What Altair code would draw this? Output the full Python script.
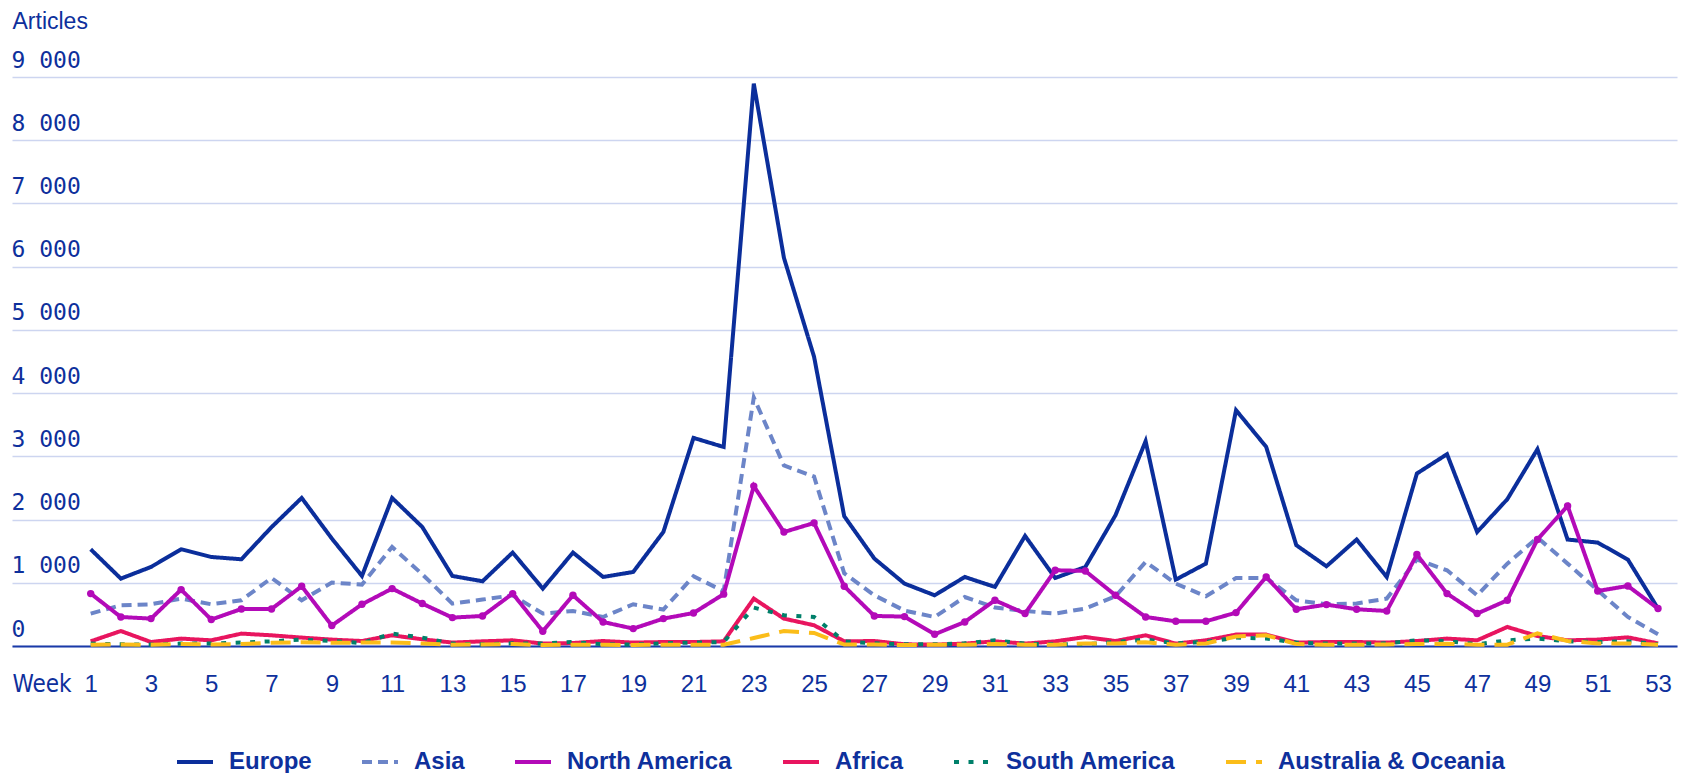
import altair as alt
import pandas as pd

weeks = list(range(1, 54))
europe = [1530, 1066, 1250, 1530, 1408, 1372, 1880, 2342, 1700, 1108,
          2342, 1883, 1108, 1024, 1478, 908, 1478, 1092, 1171, 1804,
          3292, 3148, 8895, 6140, 4575, 2053, 1383, 987, 802, 1092,
          934, 1741, 1076, 1250, 2068, 3240, 1050, 1303, 3730, 3150,
          1594, 1261, 1684, 1092, 2728, 3034, 1804, 2322, 3113, 1684,
          1636, 1367, 592]
asia = [513, 644, 660, 750, 660, 723, 1076, 723, 1003, 971,
        1567, 1135, 671, 734, 802, 513, 554, 459, 660, 576,
        1103, 866, 3931, 2855, 2679, 1150, 802, 560, 459, 775,
        608, 554, 513, 592, 786, 1329, 987, 786, 1076, 1076,
        723, 660, 671, 750, 1367, 1198, 802, 1303, 1715, 1303,
        881, 459, 185]
north_america = [829, 459, 433, 892, 418, 586, 586, 945, 323, 660,
                 908, 671, 449, 475, 829, 233, 802, 380, 275, 433,
                 522, 820, 2529, 1803, 1946, 945, 475, 465, 185, 380,
                 723, 513, 1198, 1187, 802, 459, 391, 391, 528, 1092,
                 581, 655, 581, 554, 1446, 829, 513, 723, 1684, 2216,
                 870, 950, 592]
africa = [74, 237, 63, 117, 90, 196, 169, 133, 101, 79,
          169, 106, 54, 74, 90, 38, 47, 79, 54, 63,
          63, 74, 750, 433, 328, 74, 79, 27, 22, 38,
          74, 38, 74, 142, 79, 169, 38, 90, 180, 180,
          54, 63, 63, 54, 79, 117, 90, 301, 158, 90,
          101, 137, 42]
south_america = [38, 27, 22, 38, 38, 54, 74, 101, 79, 47,
                 196, 133, 38, 27, 42, 38, 63, 27, 22, 42,
                 54, 63, 608, 486, 459, 74, 42, 27, 27, 42,
                 90, 38, 27, 27, 63, 101, 42, 63, 133, 117,
                 54, 38, 38, 42, 90, 79, 27, 90, 117, 74,
                 63, 74, 27]
australia = [20, 25, 20, 30, 25, 30, 50, 60, 50, 55,
             55, 40, 20, 25, 30, 15, 20, 20, 15, 20,
             20, 20, 127, 237, 206, 22, 25, 15, 20, 20,
             30, 20, 20, 40, 40, 60, 20, 40, 150, 170,
             30, 20, 20, 25, 30, 35, 20, 20, 200, 80,
             40, 40, 20]

series_names = ["Europe", "Asia", "North America", "Africa",
                "South America", "Australia & Oceania"]
series_values = [europe, asia, north_america, africa, south_america, australia]
colors = ["#0b2e9b", "#6c85c8", "#b30ab8", "#e8155f", "#00806a", "#fbbd19"]
dashes = [[1, 0], [10, 6], [1, 0], [1, 0], [5, 9.5], [20, 10]]
widths = [4, 4, 3.5, 4, 5, 4]
y_ticks = list(range(0, 10000, 1000))
x_ticks = list(range(1, 54, 2))

TEXT = "#0e309c"

rows = []
for name, vals in zip(series_names, series_values):
    for w, v in zip(weeks, vals):
        rows.append({"week": w, "series": name, "value": v})
df = pd.DataFrame(rows)

legend = alt.Legend(
    orient="none", legendX=163, legendY=665, direction="horizontal",
    columns=6, symbolType="stroke", symbolSize=1296, symbolStrokeWidth=4,
    labelFont="Liberation Sans", labelFontWeight="bold", labelFontSize=24,
    labelColor=TEXT, labelOffset=14, columnPadding=42, title=None,
    labelLimit=400, padding=0, rowPadding=0,
)

x_enc = alt.X(
    "week:Q",
    scale=alt.Scale(domain=[-1.611, 53.63], nice=False, zero=False),
    axis=alt.Axis(
        values=x_ticks, title="Week", grid=False, ticks=False, tickSize=0,
        labelPadding=45, labelBaseline="alphabetic", labelFontSize=24,
        labelFont="Liberation Sans", labelColor=TEXT, labelFlush=False,
        domainColor="#1a3aa8", domainWidth=2,
        titleAngle=0, titleX=0, titleY=45, titleAlign="left",
        titleBaseline="alphabetic", titleFontSize=24, titleFontWeight="normal",
        titleFont="Liberation Sans Narrow, DejaVu Sans Condensed, Liberation Sans",
        titleColor=TEXT,
    ),
)
y_enc = alt.Y(
    "value:Q",
    scale=alt.Scale(domain=[0, 9000], nice=False),
    axis=alt.Axis(
        values=y_ticks, title="Articles", grid=True, gridColor="#cdd5f0",
        gridWidth=1.5, domain=False, ticks=False, tickSize=0, labelPadding=1,
        labelAlign="left", labelBaseline="alphabetic", labelOffset=-10,
        labelFont="DejaVu Sans Mono", labelFontSize=23, labelColor=TEXT,
        labelExpr="replace(format(datum.value, ',d'), ',', ' ')",
        titleAngle=0, titleX=0, titleY=-49, titleAlign="left",
        titleBaseline="alphabetic", titleFontSize=23, titleFontWeight="normal",
        titleFont="Liberation Sans", titleColor=TEXT,
    ),
)

lines = alt.Chart(df).mark_line(strokeCap="butt", strokeJoin="miter").encode(
    x=x_enc,
    y=y_enc,
    color=alt.Color("series:N", scale=alt.Scale(domain=series_names, range=colors),
                    legend=legend, title=None),
    strokeDash=alt.StrokeDash("series:N",
                              scale=alt.Scale(domain=series_names, range=dashes),
                              legend=legend, title=None),
    strokeWidth=alt.StrokeWidth("series:N",
                                scale=alt.Scale(domain=series_names, range=widths),
                                legend=None),
)

points = alt.Chart(df[df["series"] == "North America"]).mark_circle(
    size=55, opacity=1, color="#b30ab8"
).encode(x="week:Q", y="value:Q")

chart = alt.layer(lines, points).properties(
    width=1665, height=569,
    autosize=alt.AutoSizeParams(type="none"),
    padding={"left": 4, "top": 69, "right": 3, "bottom": 140},
    background="white",
).configure_view(stroke=None)

chart.save("out.html", embed_options={"renderer": "svg", "actions": False})
